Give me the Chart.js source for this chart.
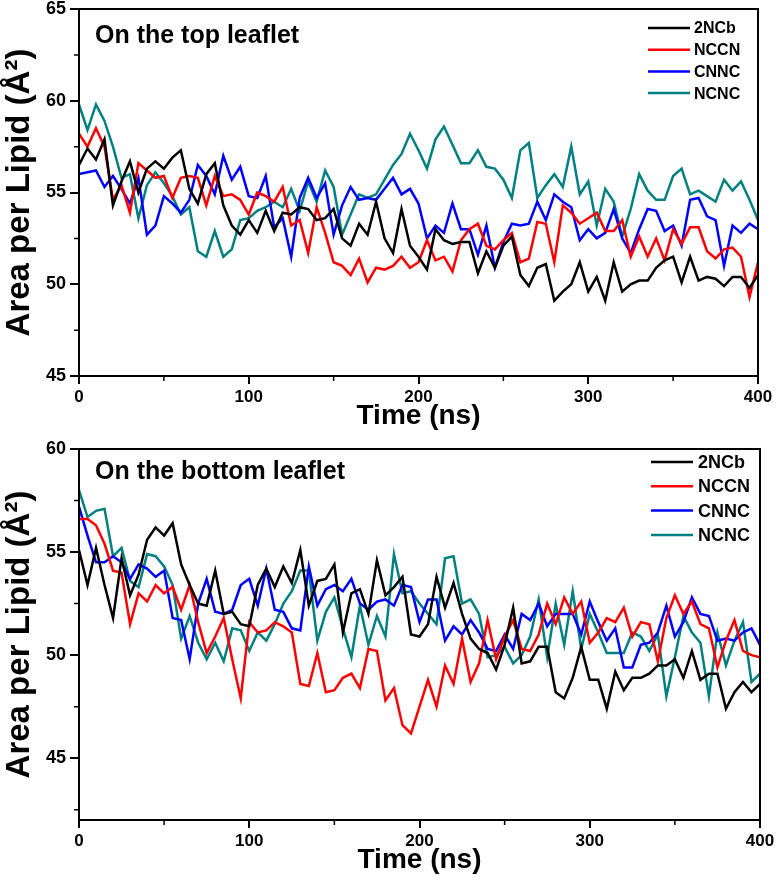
<!DOCTYPE html>
<html>
<head>
<meta charset="utf-8">
<script src="https://cdn.jsdelivr.net/npm/chart.js@4.4.1/dist/chart.umd.min.js"></script>
<style>
  html, body { margin: 0; padding: 0; background: #fff; }
  #wrap { position: relative; width: 779px; height: 888px; }
  canvas { position: absolute; left: 0; }
</style>
</head>
<body>
<div id="wrap">
  <canvas id="topChart" width="779" height="435" style="top:0"></canvas>
  <canvas id="bottomChart" width="779" height="453" style="top:435px"></canvas>
</div>
<script>
// time axis (ns), one sample every 5 ns
const times = [0,5,10,15,20,25,30,35,40,45,50,55,60,65,70,75,80,85,90,95,
  100,105,110,115,120,125,130,135,140,145,150,155,160,165,170,175,180,185,190,195,
  200,205,210,215,220,225,230,235,240,245,250,255,260,265,270,275,280,285,290,295,
  300,305,310,315,320,325,330,335,340,345,350,355,360,365,370,375,380,385,390,395,400];

const seriesNames = ['2NCb', 'NCCN', 'CNNC', 'NCNC'];
const seriesColors = ['#000000', '#ff0000', '#0000ff', '#008080'];

// top leaflet
const top2NCb = [56.5,57.4,56.8,57.9,54.3,55.6,56.7,55.0,56.3,56.7,56.3,56.9,57.3,55.2,54.4,56.0,56.6,54.3,53.2,52.7,
  53.5,52.8,54.0,52.9,53.9,53.8,54.2,54.1,53.5,53.6,54.1,52.5,52.1,53.3,52.7,54.5,52.5,51.7,54.1,52.1,
  51.5,50.8,53.0,52.4,52.2,52.3,52.3,50.6,51.8,50.9,52.1,52.6,50.5,49.9,50.9,51.1,49.1,49.6,50.0,51.2,
  49.6,50.4,49.1,51.2,49.6,50.0,50.2,50.2,50.9,51.3,51.5,50.1,51.5,50.2,50.4,50.3,49.9,50.4,50.4,49.8,50.5];
const topNCCN = [58.2,57.5,58.5,57.5,54.6,55.4,53.9,56.6,56.2,55.8,55.9,54.7,55.8,55.9,55.8,54.3,55.9,54.8,54.9,54.6,
  53.8,55.0,54.8,54.5,55.3,53.2,53.5,51.7,54.2,52.8,51.2,51.0,50.5,51.4,50.1,50.9,50.8,51.0,51.5,50.9,
  51.2,52.4,51.3,51.5,50.7,52.4,53.0,53.3,52.1,51.9,52.4,52.8,51.2,51.4,53.4,53.3,51.2,54.3,53.9,53.3,
  53.6,53.9,52.9,52.9,53.5,51.5,52.6,51.5,52.5,51.3,53.0,52.2,53.1,53.1,51.8,51.4,51.9,52.0,51.5,49.3,51.2];
const topCNNC = [56.0,56.1,56.2,55.3,55.9,55.2,54.4,55.8,52.7,53.2,54.8,54.4,53.9,54.6,56.5,55.9,54.9,57.0,55.7,56.4,
  54.8,54.7,55.9,53.1,53.6,51.5,54.7,55.8,54.7,55.5,52.7,54.3,55.3,54.6,54.7,54.6,55.2,55.8,54.9,55.2,
  54.4,52.5,53.2,52.8,54.4,53.0,53.0,51.6,53.2,50.9,52.3,53.3,53.2,53.3,54.5,53.5,54.9,54.5,54.2,52.4,
  53.0,52.5,52.8,54.1,52.5,51.7,53.0,54.1,54.0,52.9,53.2,52.1,54.6,54.7,53.7,53.5,51.0,53.2,52.8,53.3,53.0];
const topNCNC = [59.8,58.4,59.8,58.9,57.5,55.8,56.0,53.6,55.4,56.1,55.5,54.8,53.8,54.2,51.8,51.5,52.9,51.5,51.9,53.5,
  53.6,54.0,54.2,54.5,54.2,55.2,54.0,55.6,54.5,56.2,55.3,52.7,53.8,54.9,54.7,54.9,55.7,56.5,57.1,58.2,
  57.3,56.3,57.9,58.6,57.6,56.6,56.6,57.3,56.4,56.3,55.7,54.7,57.3,57.7,54.7,55.4,56.0,55.3,57.5,54.9,
  55.6,53.2,55.2,54.5,52.6,54.1,56.0,55.1,54.6,54.6,55.9,56.3,54.9,55.1,54.8,54.5,55.7,55.1,55.6,54.6,53.5];

// bottom leaflet
const bot2NCb = [55.1,53.4,55.2,53.4,51.8,54.7,52.9,53.9,55.6,56.2,55.8,56.4,54.4,53.4,52.5,52.4,54.1,52.0,52.1,51.5,
  51.4,53.4,54.2,53.3,54.3,53.5,55.1,52.4,53.6,53.7,54.4,51.1,53.0,53.2,52.0,54.6,52.9,53.3,53.8,51.0,
  50.9,51.5,53.8,52.3,53.5,52.0,50.8,50.3,50.1,49.3,50.5,52.3,49.6,49.7,50.4,50.4,48.2,47.9,48.9,50.4,
  48.8,48.8,47.4,49.2,48.3,48.9,48.9,49.1,49.5,49.5,49.8,48.9,50.2,48.8,49.1,49.1,47.4,48.2,48.7,48.2,48.6];
const botNCCN = [56.6,56.6,56.3,55.4,54.1,54.0,51.5,53.0,52.6,53.4,53.0,53.3,52.2,53.4,51.6,50.1,50.9,51.8,49.8,47.9,
  51.6,51.1,51.2,51.6,51.4,51.1,48.6,48.5,50.1,48.2,48.3,48.9,49.1,48.4,50.3,50.2,47.8,48.4,46.6,46.2,
  47.5,48.8,47.5,49.5,48.6,50.8,48.7,49.6,51.7,49.8,50.9,51.7,50.3,50.2,51.0,52.5,51.5,52.8,52.0,52.6,
  50.6,51.1,51.8,51.6,52.3,50.9,51.6,51.5,49.7,51.8,52.9,52.0,52.6,51.5,51.3,49.4,50.7,51.7,50.2,50.0,49.9];
const botCNNC = [57.2,55.8,54.5,54.5,54.8,54.5,53.7,54.4,54.2,53.8,54.1,51.8,51.7,49.8,52.5,53.7,52.1,52.0,52.2,53.4,
  53.7,52.4,54.2,52.2,52.1,51.3,51.2,54.3,52.4,53.2,53.4,53.1,53.7,52.5,52.2,52.6,52.7,52.4,53.4,53.3,
  51.6,52.7,52.7,50.7,51.4,51.0,51.7,51.1,50.3,50.2,51.0,50.3,52.0,51.7,52.5,51.4,52.0,52.0,52.0,51.0,
  52.6,51.6,50.7,51.3,49.4,49.4,50.5,50.6,51.1,52.4,50.9,51.6,52.8,52.0,51.9,50.7,50.8,50.7,51.1,51.3,50.5];
const botNCNC = [58.0,56.7,57.0,57.1,54.8,55.2,53.6,53.3,54.9,54.8,54.3,53.4,50.8,51.9,50.6,49.8,50.6,49.7,51.3,51.2,
  50.2,51.1,50.7,51.5,52.5,53.1,54.1,54.1,50.7,52.1,52.8,51.3,49.9,52.4,50.5,51.9,50.9,54.9,53.0,53.1,
  52.5,52.0,51.5,54.7,54.8,52.5,52.7,52.0,49.9,50.0,50.4,49.6,50.0,50.9,52.7,49.9,52.5,50.5,53.1,50.3,
  52.0,51.1,50.1,50.1,50.1,51.1,50.9,50.2,51.0,48.0,49.9,51.9,51.1,50.6,48.0,51.1,49.5,50.7,51.6,48.7,49.1];

// axis ticks
const xTicks = [0,50,100,150,200,250,300,350,400];
const xLabelVals = [0,100,200,300,400];
const topYTicks = [45,47.5,50,52.5,55,57.5,60,62.5,65];
const botYTicks = [42.5,45,47.5,50,52.5,55,57.5,60];
const yLabelVals = [45,50,55,60,65];

const FONT = '"Liberation Sans", Arial, Helvetica, sans-serif';

const panelDecor = {
  id: 'panelDecor',
  afterDraw(chart, args, o) {
    const {ctx, chartArea: a, scales: {x, y}} = chart;
    ctx.save();
    ctx.strokeStyle = '#000';
    // minor ticks (short)
    ctx.lineWidth = 1.5;
    ctx.beginPath();
    x.ticks.forEach(t => {
      if (!xLabelVals.includes(t.value)) {
        const px = x.getPixelForValue(t.value);
        ctx.moveTo(px, a.bottom); ctx.lineTo(px, a.bottom + 5);
      }
    });
    y.ticks.forEach(t => {
      if (!yLabelVals.includes(t.value)) {
        const py = y.getPixelForValue(t.value);
        ctx.moveTo(a.left, py); ctx.lineTo(a.left - 5, py);
      }
    });
    ctx.stroke();
    // frame
    ctx.lineWidth = 2;
    ctx.strokeRect(a.left, a.top, a.right - a.left, a.bottom - a.top);
    // panel title
    ctx.fillStyle = '#000';
    ctx.font = 'bold 25px ' + FONT;
    ctx.textBaseline = 'alphabetic';
    ctx.textAlign = 'left';
    ctx.fillText(o.title, o.titleX, o.titleY);
    // legend
    ctx.font = 'bold ' + o.legFont + 'px ' + FONT;
    ctx.textBaseline = 'middle';
    chart.data.datasets.forEach((ds, i) => {
      const yy = o.legY + i * o.legDy;
      ctx.strokeStyle = ds.borderColor;
      ctx.lineWidth = 2.5;
      ctx.beginPath();
      ctx.moveTo(o.legX0, yy); ctx.lineTo(o.legX1, yy);
      ctx.stroke();
      ctx.fillText(ds.label, o.legTextX, yy + 1);
    });
    ctx.restore();
  }
};

function makePanel(id, data, yMin, yMax, yTicks, cfg) {
  const datasets = data.map((arr, i) => ({
    label: seriesNames[i],
    data: times.map((t, k) => ({x: t, y: arr[k]})),
    borderColor: seriesColors[i],
    borderWidth: 2.5,
    pointRadius: 0,
    tension: 0,
    fill: false
  }));
  new Chart(document.getElementById(id), {
    type: 'line',
    data: {datasets},
    plugins: [panelDecor],
    options: {
      responsive: false,
      animation: false,
      devicePixelRatio: 1,
      layout: {padding: {top: cfg.padTop, right: cfg.padRight, left: 0, bottom: 0}},
      plugins: {
        legend: {display: false},
        tooltip: {enabled: false},
        panelDecor: cfg.decor
      },
      scales: {
        x: {
          type: 'linear',
          min: 0, max: 400,
          afterBuildTicks: s => { s.ticks = xTicks.map(v => ({value: v})); },
          afterFit: s => { s.height = cfg.xHeight; s.paddingLeft = 0; s.paddingRight = 0; },
          grid: {
            drawOnChartArea: false,
            tickLength: 8,
            lineWidth: 2,
            color: c => (c.tick && xLabelVals.includes(c.tick.value)) ? '#000' : 'rgba(0,0,0,0)'
          },
          border: {display: true, color: '#000', width: 2},
          ticks: {
            color: '#000',
            padding: 5,
            maxRotation: 0,
            autoSkip: false,
            font: {family: FONT, size: 17, weight: 'bold', lineHeight: 1},
            callback: v => xLabelVals.includes(v) ? String(v) : ''
          },
          title: {
            display: true,
            text: 'Time (ns)',
            color: '#000',
            font: {family: FONT, size: 28, weight: 'bold', lineHeight: 1},
            padding: {top: 0, bottom: cfg.xTitlePad}
          }
        },
        y: {
          type: 'linear',
          min: yMin, max: yMax,
          afterBuildTicks: s => { s.ticks = yTicks.map(v => ({value: v})); },
          afterFit: s => { s.width = 79; s.paddingTop = 0; s.paddingBottom = 0; },
          grid: {
            drawOnChartArea: false,
            tickLength: 9,
            lineWidth: 2,
            color: c => (c.tick && yLabelVals.includes(c.tick.value)) ? '#000' : 'rgba(0,0,0,0)'
          },
          border: {display: true, color: '#000', width: 2},
          ticks: {
            color: '#000',
            padding: 4,
            autoSkip: false,
            font: {family: FONT, size: 18, weight: 'bold', lineHeight: 1},
            callback: v => yLabelVals.includes(v) ? String(v) : ''
          },
          title: {
            display: true,
            text: 'Area per Lipid (Å²)',
            color: '#000',
            font: {family: FONT, size: 33, weight: 'bold', lineHeight: 1},
            padding: {top: 3, bottom: 0}
          }
        }
      }
    }
  });
}

makePanel('topChart', [top2NCb, topNCCN, topCNNC, topNCNC], 45, 65, topYTicks, {
  padTop: 9, padRight: 21, xHeight: 59, xTitlePad: 5,
  decor: {title: 'On the top leaflet', titleX: 95, titleY: 43,
    legX0: 648, legX1: 690, legTextX: 694, legY: 28, legDy: 21.7, legFont: 16}
});

makePanel('bottomChart', [bot2NCb, botNCCN, botCNNC, botNCNC], 42, 60, botYTicks, {
  padTop: 14, padRight: 19, xHeight: 68, xTitlePad: 14,
  decor: {title: 'On the bottom leaflet', titleX: 95, titleY: 44,
    legX0: 651, legX1: 693, legTextX: 698, legY: 27, legDy: 24.3, legFont: 18}
});
</script>
</body>
</html>
